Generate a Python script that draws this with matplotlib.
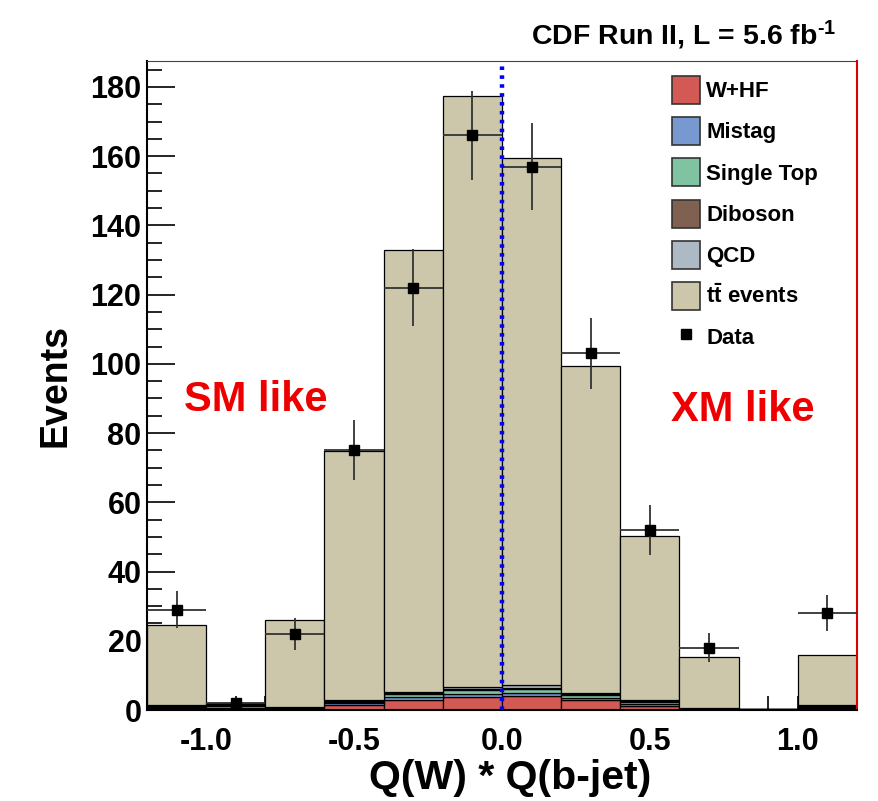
import matplotlib
matplotlib.use("Agg")
import matplotlib.pyplot as plt
import numpy as np
from matplotlib.patches import Patch
from matplotlib.lines import Line2D

plt.rcParams['font.family'] = ['Liberation Sans', 'DejaVu Sans']
plt.rcParams['font.weight'] = 'bold'
plt.rcParams['mathtext.fontset'] = 'custom'
plt.rcParams['mathtext.rm'] = 'Liberation Sans:bold'
plt.rcParams['mathtext.it'] = 'Liberation Sans:bold'
plt.rcParams['mathtext.bf'] = 'Liberation Sans:bold'

# 12 bins of width 0.2 over [-1.2, 1.2]
edges = np.linspace(-1.2, 1.2, 13)

# stacked MC components, bottom to top (events per bin)
whf     = [0.5, 0.3, 0.5, 1.4, 2.9, 3.8, 4.1, 2.9, 1.3, 0.4, 0.1, 0.5]
mistag  = [0.3, 0.3, 0.1, 0.5, 0.8, 0.9, 0.9, 0.7, 0.5, 0.1, 0.05, 0.3]
singtop = [0.2, 0.6, 0.1, 0.3, 0.8, 1.0, 1.0, 0.7, 0.4, 0.1, 0.05, 0.2]
diboson = [0.1, 0.2, 0.1, 0.4, 0.3, 0.3, 0.4, 0.3, 0.4, 0.05, 0.05, 0.2]
qcd     = [0.3, 0.4, 0.1, 0.3, 0.5, 0.7, 0.7, 0.4, 0.3, 0.05, 0.05, 0.2]
ttbar   = [23.1, 0.1, 25.1, 71.9, 127.7, 170.6, 152.3, 94.3, 47.3, 14.6, 0.0, 14.5]

data = [29, 2, 22, 75, 122, 166, 157, 103, 52, 18, 0, 28]

labels = ['W+HF', 'Mistag', 'Single Top', 'Diboson', 'QCD', r'$t\bar{t}$ events']
colors = ['#d35954', '#7898d0', '#80c3a3', '#806050', '#adbac6', '#ccc7ab']

fig = plt.figure(figsize=(8.79, 8.01), dpi=100)
ax = fig.add_axes([147/879, 91/801, 710/879, 649/801])

centers = 0.5 * (edges[:-1] + edges[1:])
width = edges[1] - edges[0]
bottom = np.zeros(len(centers))
for vals, c in zip([whf, mistag, singtop, diboson, qcd, ttbar], colors):
    v = np.array(vals)
    ax.bar(centers, v, width=width, bottom=bottom, color=c,
           edgecolor='black', linewidth=0.9, zorder=2)
    bottom += v

d = np.array(data, dtype=float)
m = d > 0
ax.errorbar(centers[m], d[m], yerr=np.sqrt(d[m]), xerr=width / 2, fmt='s',
            color='black', ms=7, ecolor='#333333', elinewidth=1.3,
            capsize=0, zorder=4)

ax.axvline(0.0, ymin=0, ymax=186/187.5, color='#0000ff', lw=3.2,
           ls=(0, (0.8, 1.2)), zorder=5)

ax.set_xlim(-1.2, 1.2)
ax.set_ylim(0, 187.5)

ax.set_yticks(np.arange(0, 181, 20))
ax.set_yticks(np.arange(0, 186, 5), minor=True)
ax.set_xticks([-1.0, -0.5, 0.0, 0.5, 1.0])
ax.set_xticklabels(['-1.0', '-0.5', '0.0', '0.5', '1.0'])
ax.set_xticks(np.arange(-1.1, 1.15, 0.1), minor=True)
ax.tick_params(axis='y', which='major', direction='in', length=20, width=1.2,
               labelsize=22, pad=4)
ax.tick_params(axis='y', which='minor', direction='in', length=11, width=1.2)
ax.tick_params(axis='x', which='major', direction='in', length=10, width=1.2,
               labelsize=22, pad=12)
ax.tick_params(axis='x', which='minor', direction='in', length=10, width=1.2)

for s in ['left', 'bottom']:
    ax.spines[s].set_linewidth(1.5)
ax.spines['top'].set_color('#444444')
ax.spines['right'].set_color('#dd0000')
ax.spines['right'].set_linewidth(1.5)

ax.set_xlabel('Q(W) * Q(b-jet)', fontsize=29.5, fontweight='bold')
ax.xaxis.set_label_coords(0.511, -0.075)
ax.set_ylabel('Events', fontsize=27, fontweight='bold')
ax.yaxis.set_label_coords(-0.104, 0.5)

ax.text(-0.834, 89.5, 'SM like', color='#ee0000', fontsize=30,
        fontweight='bold', ha='center', va='center')
ax.text(0.814, 86.6, 'XM like', color='#ee0000', fontsize=30,
        fontweight='bold', ha='center', va='center')

fig.text(836/879, 1 - 45/801, r'CDF Run II, L = 5.6 fb$^{\text{-1}}$',
         fontsize=20.5, fontweight='bold', ha='right', va='baseline')

handles = [Patch(facecolor=c, edgecolor='#333333', linewidth=1.2) for c in colors]
handles.append(Line2D([], [], marker='s', color='black', ls='none', ms=7))
leg = ax.legend(handles, labels + ['Data'], loc='upper left',
                bbox_to_anchor=((672 - 147) / 710, (710 - 76) / 649),
                frameon=False, fontsize=16, handlelength=1.26,
                handleheight=1.56, labelspacing=0.595, handletextpad=0.28,
                borderpad=0, borderaxespad=0)

fig.savefig('out.png', dpi=100)
